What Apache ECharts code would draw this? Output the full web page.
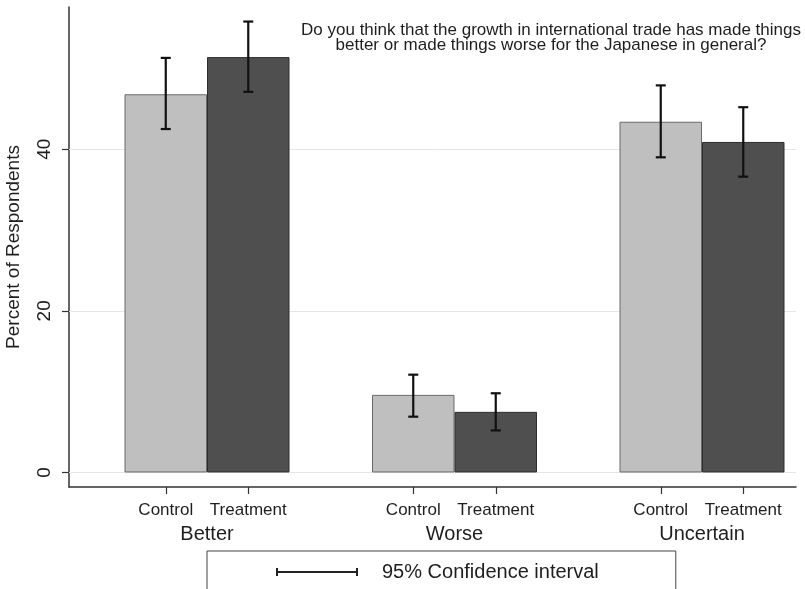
<!DOCTYPE html>
<html>
<head>
<meta charset="utf-8">
<script src="https://cdn.jsdelivr.net/npm/echarts@6/dist/echarts.min.js"></script>
<style>
  html, body { margin: 0; padding: 0; background: #fff; }
  #chart { width: 805px; height: 589px; }
</style>
</head>
<body>
<div id="chart"></div>
<script>
// data (percent of respondents)
var groups = ['Better', 'Worse', 'Uncertain'];
var arms = ['Control', 'Treatment'];
var controlPct = [46.8, 9.6, 43.4];
var treatPct = [51.4, 7.5, 40.9];
var controlLo = [42.5, 6.9, 39.0];
var controlHi = [51.3, 12.1, 47.9];
var treatLo = [47.1, 5.2, 36.6];
var treatHi = [55.8, 9.8, 45.2];
var yTicks = [0, 20, 40];
var titleText = 'Do you think that the growth in international trade has made things\nbetter or made things worse for the Japanese in general?';

var FONT = '"Liberation Sans", Arial, sans-serif';
var OFF = 1 / 6; // half of a bar, in group units
var XMIN = 0.4424, XMAX = 3.3798;

// positions on the hidden value axis: group i at i+1
var armPos = [], armName = {};
groups.forEach(function (g, i) {
  armPos.push(i + 1 - OFF, i + 1 + OFF);
  armName[(i + 1 - OFF).toFixed(3)] = arms[0];
  armName[(i + 1 + OFF).toFixed(3)] = arms[1];
});
var groupPos = groups.map(function (g, i) { return i + 1; });

var ctrlData = controlPct.map(function (v, i) { return [i + 1 - OFF, v]; });
var treatData = treatPct.map(function (v, i) { return [i + 1 + OFF, v]; });
var ciData = [];
groups.forEach(function (g, i) {
  ciData.push([i + 1 - OFF, controlLo[i], controlHi[i]]);
  ciData.push([i + 1 + OFF, treatLo[i], treatHi[i]]);
});

var myChart = echarts.init(document.getElementById('chart'));
var option = {
  animation: false,
  backgroundColor: '#fff',
  textStyle: { fontFamily: FONT },
  title: {
    text: titleText,
    left: 546,
    top: 18,
    textAlign: 'center',
    textStyle: { fontFamily: FONT, fontSize: 17, fontWeight: 'normal', color: '#1e1e1e', lineHeight: 15, align: 'center' }
  },
  legend: {
    data: [{
      name: '95% Confidence interval',
      icon: 'path://M0,0h2v8h-2z M0,3h82v2h-82z M80,0h2v8h-2z',
      itemStyle: { color: '#222' }
    }],
    left: 207,
    top: 551,
    itemWidth: 82,
    itemHeight: 8,
    padding: [11, 77, 20, 69],
    borderColor: '#444',
    borderWidth: 1,
    borderRadius: 0,
    backgroundColor: '#fff',
    selectedMode: false,
    textStyle: { fontFamily: FONT, fontSize: 20, color: '#1e1e1e', padding: [0, 0, 0, 19] }
  },
  grid: { left: 69, right: 9, top: 7, bottom: 102, outerBoundsMode: 'none', containLabel: false },
  xAxis: [{
    type: 'value',
    min: XMIN,
    max: XMAX,
    axisLine: { show: true, onZero: false, lineStyle: { color: '#333', width: 1.5 } },
    axisTick: { show: true, length: 7, customValues: armPos, lineStyle: { color: '#333', width: 1.2 } },
    axisLabel: {
      customValues: armPos,
      margin: 15,
      fontFamily: FONT,
      fontSize: 17,
      color: '#1e1e1e',
      formatter: function (v) { return armName[v.toFixed(3)] || ''; }
    },
    splitLine: { show: false }
  }, {
    type: 'value',
    position: 'bottom',
    min: XMIN,
    max: XMAX,
    axisLine: { show: false, onZero: false },
    axisTick: { show: false },
    axisLabel: {
      customValues: groupPos,
      margin: 37,
      fontFamily: FONT,
      fontSize: 20,
      color: '#1e1e1e',
      formatter: function (v) { return groups[Math.round(v) - 1] || ''; }
    },
    splitLine: { show: false }
  }],
  yAxis: {
    type: 'value',
    min: -1.8,
    max: 57.6,
    name: 'Percent of Respondents',
    nameLocation: 'middle',
    nameRotate: 90,
    nameGap: 46,
    nameTextStyle: { fontFamily: FONT, fontSize: 19, color: '#1e1e1e' },
    axisLine: { show: true, onZero: false, lineStyle: { color: '#333', width: 1.5 } },
    axisTick: { show: true, length: 7, customValues: yTicks, lineStyle: { color: '#333', width: 1.2 } },
    axisLabel: {
      customValues: yTicks,
      rotate: 90,
      margin: 15,
      fontFamily: FONT,
      fontSize: 19,
      color: '#1e1e1e'
    },
    splitLine: { show: false }
  },
  series: [
    {
      name: 'Control',
      type: 'bar',
      xAxisIndex: 0,
      barWidth: 82.5,
      barGap: '-100%',
      itemStyle: { color: '#bfbfbf', borderColor: '#6a6a6a', borderWidth: 1 },
      data: ctrlData,
      z: 2,
      markLine: {
        silent: true,
        symbol: 'none',
        z: 1,
        label: { show: false },
        lineStyle: { color: '#e6e6e6', width: 1, type: 'solid' },
        data: yTicks.map(function (t) { return { yAxis: t }; })
      }
    },
    {
      name: 'Treatment',
      type: 'bar',
      xAxisIndex: 0,
      barWidth: 82.5,
      barGap: '-100%',
      itemStyle: { color: '#4f4f4f', borderColor: '#2e2e2e', borderWidth: 1 },
      data: treatData,
      z: 2
    },
    {
      name: '95% Confidence interval',
      type: 'custom',
      xAxisIndex: 0,
      itemStyle: { color: '#111' },
      z: 5,
      renderItem: function (params, api) {
        var x = api.value(0);
        var lo = api.coord([x, api.value(1)]);
        var hi = api.coord([x, api.value(2)]);
        var cap = 5;
        var st = { stroke: '#111', lineWidth: 2.2 };
        return {
          type: 'group',
          children: [
            { type: 'line', shape: { x1: lo[0], y1: lo[1], x2: hi[0], y2: hi[1] }, style: st },
            { type: 'line', shape: { x1: hi[0] - cap, y1: hi[1], x2: hi[0] + cap, y2: hi[1] }, style: st },
            { type: 'line', shape: { x1: lo[0] - cap, y1: lo[1], x2: lo[0] + cap, y2: lo[1] }, style: st }
          ]
        };
      },
      encode: { x: 0, y: [1, 2] },
      data: ciData
    }
  ]
};
myChart.setOption(option);
</script>
</body>
</html>
